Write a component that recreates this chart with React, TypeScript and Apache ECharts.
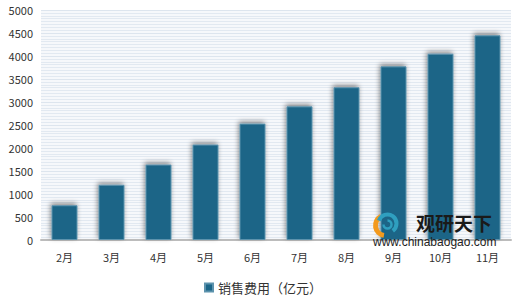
import React, { useEffect, useRef } from "react";
import * as echarts from "echarts";

const categories = ["2月", "3月", "4月", "5月", "6月", "7月", "8月", "9月", "10月", "11月"];
const salesExpense = [755, 1200, 1640, 2075, 2530, 2905, 3320, 3775, 4050, 4450];
const seriesName = "销售费用（亿元）";
const yTicks = { min: 0, max: 5000, interval: 500 };

export default function App() {
  const ref = useRef<HTMLDivElement>(null);
  useEffect(() => {
    document.body.style.margin = "0";
    const chart = echarts.init(ref.current!, null, { renderer: "svg" });
    const font = "'Noto Sans CJK SC', 'Microsoft YaHei', sans-serif";
    chart.setOption({
      animation: false,
      backgroundColor: "#ffffff",
      textStyle: { fontFamily: font },
      grid: {
        left: 41,
        right: 9,
        top: 10,
        bottom: 63,
        show: true,
        backgroundColor: "#f6f8fb",
        borderWidth: 0,
      },
      legend: {
        data: [{ name: seriesName, icon: "rect" }],
        left: 199,
        top: 276,
        itemWidth: 8,
        itemHeight: 8,
        itemGap: 6,
        textStyle: { fontSize: 13, color: "#333", fontFamily: font },
      },
      xAxis: {
        type: "category",
        data: categories,
        axisLine: { lineStyle: { color: "#bcbcbc", width: 2 } },
        axisTick: { show: false },
        axisLabel: { fontSize: 11, color: "#333", margin: 11, lineHeight: 12, fontFamily: font },
      },
      yAxis: {
        type: "value",
        min: yTicks.min,
        max: yTicks.max,
        interval: yTicks.interval,
        axisLine: { show: false },
        axisTick: { show: false },
        axisLabel: {
          fontSize: 11,
          color: "#333",
          margin: 8,
          fontFamily: font,
          formatter: (v: number) => String(v),
        },
        splitLine: { show: true, lineStyle: { color: "#dde5ee", width: 1 } },
        minorTick: { show: false, splitNumber: 8 },
        minorSplitLine: { show: true, lineStyle: { color: "#e2e9f1", width: 1 } },
      },
      series: [
        {
          name: seriesName,
          type: "bar",
          data: salesExpense,
          barWidth: 26,
          itemStyle: {
            color: "#1b6587",
            borderColor: "#5d93ad",
            borderWidth: 1,
            shadowColor: "rgba(0,0,0,0.45)",
            shadowBlur: 5,
            shadowOffsetX: -1,
            shadowOffsetY: -2,
          },
        },
      ],
      graphic: [
        {
          type: "group",
          left: 373,
          top: 212,
          z: 100,
          children: [
            { type: "arc", z: 100, shape: { cx: 13, cy: 13, r: 10, startAngle: Math.PI * 0.55, endAngle: Math.PI * 1.35 }, style: { stroke: "#f39a1e", lineWidth: 5, fill: "none" } },
            { type: "arc", z: 100, shape: { cx: 15, cy: 11, r: 9, startAngle: -Math.PI * 0.9, endAngle: Math.PI * 0.3 }, style: { stroke: "#2f9fbf", lineWidth: 4, fill: "none" } },
            { type: "arc", z: 100, shape: { cx: 15, cy: 12, r: 4, startAngle: -Math.PI * 0.5, endAngle: Math.PI * 1.0 }, style: { stroke: "#2f9fbf", lineWidth: 2.5, fill: "none" } },
          ],
        },
        {
          type: "text",
          left: 416,
          top: 212,
          z: 100,
          style: { text: "观研天下", fill: "#1a1a1a", font: "bold 19px 'Noto Sans CJK SC', sans-serif", lineHeight: 20 },
        },
        {
          type: "text",
          left: 373,
          top: 236,
          z: 100,
          style: { text: "www.chinabaogao.com", fill: "#222", font: "12px 'Liberation Sans', Arial, sans-serif", lineHeight: 12 },
        },
      ],
    });
    return () => chart.dispose();
  }, []);
  return <div ref={ref} style={{ position: "absolute", left: 0, top: 0, width: 520, height: 303 }} />;
}
